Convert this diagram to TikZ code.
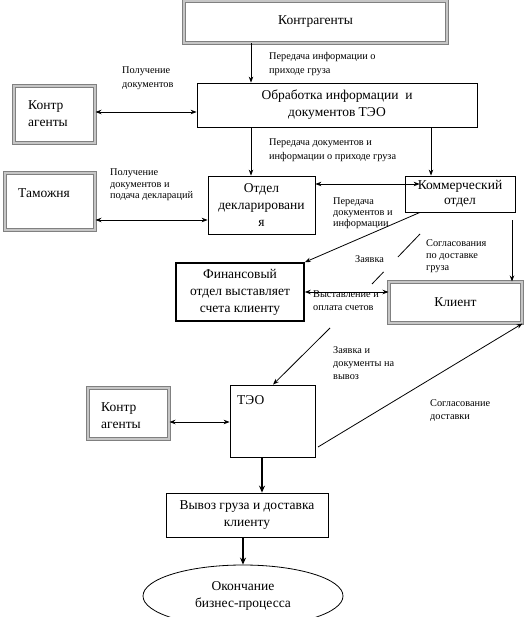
\documentclass[tikz,border=0pt]{standalone}
\usepackage{fontspec}
\setmainfont{Liberation Serif}
\usetikzlibrary{arrows.meta,calc,shapes.geometric}
\newcommand\mainfs{\fontsize{13.5}{17}\selectfont}
\newcommand\lblfs{\fontsize{10.3}{12}\selectfont}
\begin{document}
\begin{tikzpicture}[x=1pt,y=-1pt,
  box/.style={draw, line width=0.8pt, inner sep=1pt, align=center, font=\mainfs},
  dbox/.style={draw=gray, double=gray!45, double distance=2pt, line width=1pt, inner sep=1pt, align=center, font=\mainfs},
  txt/.style={anchor=west, inner sep=0pt, align=left, font=\mainfs},
  lbl/.style={anchor=base west, inner sep=0pt, align=left, font=\lblfs},
  arr/.style={line width=0.8pt, -{Stealth[length=6pt,width=4.5pt]}},
  darr/.style={line width=0.8pt, {Stealth[length=6pt,width=4.5pt]}-{Stealth[length=6pt,width=4.5pt]}},
  tarr/.style={line width=1.8pt, -{Stealth[length=7pt,width=6pt]}},
]
\path[use as bounding box, fill=white] (0,0) rectangle (528,617);

% boxes
\node[dbox, minimum width=263, minimum height=42] (kontr) at (315.5,22) {Контрагенты};
\node[box, minimum width=280, minimum height=44] (obr) at (337,105) {Обработка информации~~и\\документов ТЭО};
\node[dbox, minimum width=81, minimum height=57] (ka1) at (54.5,114.5) {};
\node[txt] (ka1t) at (28,114) {Контр\\агенты};
\node[dbox, minimum width=90, minimum height=57] (tam) at (50,201.5) {};
\node[txt] (tamt) at (18,193) {Таможня};
\node[box, minimum width=107, minimum height=58] (otd) at (261.5,205) {Отдел\\декларировани\\я};
\node[box, minimum width=110, minimum height=36] (kom) at (460,194) {Коммерческий\\[-2pt]отдел};
\node[box, line width=1.6pt, minimum width=128, minimum height=58] (fin) at (240,292) {Финансовый\\отдел выставляет\\счета клиенту};
\node[dbox, minimum width=133, minimum height=41] (kli) at (455.5,302.5) {Клиент};
\node[box, minimum width=85, minimum height=72] (teo) at (272.5,421) {};
\node[txt] (teot) at (237,400) {ТЭО};
\node[dbox, minimum width=81, minimum height=51] (ka2) at (128.5,413.5) {};
\node[txt] (ka2t) at (101,416) {Контр\\агенты};
\node[box, minimum width=162, minimum height=44] (vyv) at (247,515) {Вывоз груза и доставка\\клиенту};
\node[draw, ellipse, line width=0.8pt, align=center, font=\mainfs, minimum width=200, minimum height=62, inner sep=0pt] (ell) at (243,596) {Окончание\\бизнес-процесса};

% helper coordinates
\coordinate (x251) at (251,0);
\coordinate (x431) at (431,0);
\coordinate (x420) at (420,0);
\coordinate (x512) at (512,0);
\coordinate (x273) at (273,0);
\coordinate (x262) at (262,0);
\coordinate (x243) at (243,0);
\coordinate (y112) at (0,112);
\coordinate (y220) at (0,220);
\coordinate (y184) at (0,184);
\coordinate (y292) at (0,292);
\coordinate (y422) at (0,422);
\coordinate (zA) at (372,284);
\coordinate (zB) at (420,234);
\coordinate (s11) at (330,328);
\coordinate (s12) at (318,447);

% connectors
\draw[arr] (kontr.south -| x251) -- (obr.north -| x251);
\draw[darr] (ka1.east |- y112) -- (obr.west |- y112);
\draw[arr] (obr.south -| x251) -- (otd.north -| x251);
\draw[arr] (obr.south -| x431) -- (kom.north -| x431);
\draw[darr] (tam.east |- y220) -- (otd.west |- y220);
\draw[darr] (otd.east |- y184) -- ($(kom.west |- y184)+(15,0)$);
\draw[arr] (kom.south -| x420) -- (fin.north east);
\draw[line width=0.8pt] (zA) -- ($(zA)!0.24!(zB)$);
\draw[line width=0.8pt] ($(zA)!0.54!(zB)$) -- (zB);
\draw[arr] (kom.south -| x512) ++(0,8) -- (kli.north -| x512);
\draw[darr] (fin.east |- y292) -- (kli.west |- y292);
\draw[arr] (s11) -- (teo.north -| x273);
\draw[arr] (s12) -- (kli.south east);
\draw[darr] (ka2.east |- y422) -- (teo.west |- y422);
\draw[tarr] (teo.south -| x262) -- (vyv.north -| x262);
\draw[tarr] (vyv.south -| x243) -- (ell.north);

% labels (anchor = baseline of last line)
\node[lbl, font=\fontsize{10.3}{14}\selectfont] (l1) at (269,74) {Передача информации о\\приходе груза};
\node[lbl, font=\fontsize{10.3}{14}\selectfont] (l2) at (122,88) {Получение\\документов};
\node[lbl, font=\fontsize{10.3}{14}\selectfont] (l3) at (269,160) {Передача документов и\\информации о приходе груза};
\node[lbl, font=\fontsize{10.3}{11.5}\selectfont] (l4) at (110,199) {Получение\\документов и\\подача деклараций};
\node[lbl, font=\fontsize{10.3}{10.7}\selectfont] (l5) at (333,226) {Передача\\документов и\\информации};
\node[lbl] (l6) at (355,262) {Заявка};
\node[lbl] (l7) at (426,270) {Согласования\\по доставке\\груза};
\node[lbl, font=\fontsize{10.3}{13}\selectfont] (l8) at (313,310) {Выставление и\\оплата счетов};
\node[lbl, font=\fontsize{10.3}{13}\selectfont] (l9) at (333,379) {Заявка и\\документы на\\вывоз};
\node[lbl, font=\fontsize{10.3}{13}\selectfont] (l10) at (430,419) {Согласование\\доставки};
\end{tikzpicture}
\end{document}
